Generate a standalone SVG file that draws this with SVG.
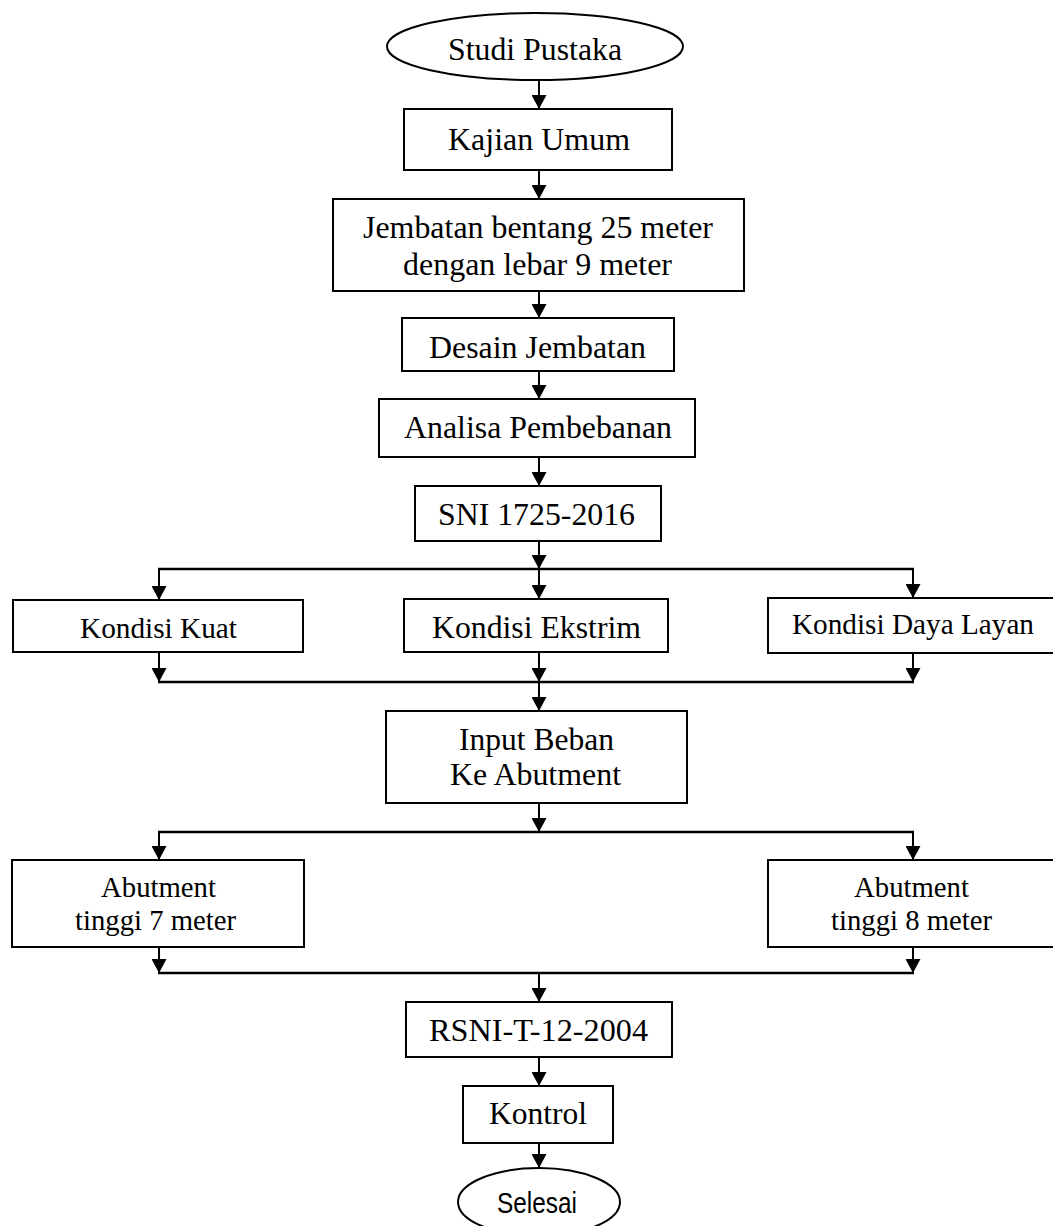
<svg xmlns="http://www.w3.org/2000/svg" width="1053" height="1226" viewBox="0 0 1053 1226">
<defs>
<marker id="ah" markerUnits="userSpaceOnUse" markerWidth="14" markerHeight="15" viewBox="0 0 14 15" refX="14" refY="7.5" orient="auto">
<path d="M0,0 L14,7.5 L0,15 Z" fill="#000"/>
</marker>
<style>
.box{fill:#fff;stroke:#000;stroke-width:2}
.t{font-family:"Liberation Serif","Times New Roman",serif;font-size:32px;fill:#000}
.s{font-size:29px}
.sans{font-family:"Liberation Sans",Arial,sans-serif;font-size:30px;fill:#000}
.c{stroke:#000;stroke-width:2;fill:none}
.a{marker-end:url(#ah)}
.h{stroke-width:2.5}
</style>
</defs>
<rect width="1053" height="1226" fill="#fff"/>
<g id="connectors">
<line class="c a" x1="539" y1="80" x2="539" y2="109"/>
<line class="c a" x1="539" y1="170" x2="539" y2="199"/>
<line class="c a" x1="539" y1="291" x2="539" y2="318"/>
<line class="c a" x1="539" y1="371" x2="539" y2="399"/>
<line class="c a" x1="539" y1="457" x2="539" y2="486"/>
<line class="c a" x1="539" y1="541" x2="539" y2="569"/>
<line class="c h" x1="158" y1="569" x2="914" y2="569"/>
<line class="c a" x1="159" y1="569" x2="159" y2="600"/>
<line class="c a" x1="539" y1="569" x2="539" y2="599"/>
<line class="c a" x1="913" y1="569" x2="913" y2="598"/>
<line class="c a" x1="159" y1="652" x2="159" y2="682"/>
<line class="c a" x1="539" y1="652" x2="539" y2="682"/>
<line class="c a" x1="913" y1="653" x2="913" y2="682"/>
<line class="c h" x1="158" y1="682" x2="914" y2="682"/>
<line class="c a" x1="539" y1="682" x2="539" y2="711"/>
<line class="c a" x1="539" y1="803" x2="539" y2="832"/>
<line class="c h" x1="158" y1="832" x2="914" y2="832"/>
<line class="c a" x1="159" y1="832" x2="159" y2="860"/>
<line class="c a" x1="913" y1="832" x2="913" y2="860"/>
<line class="c a" x1="159" y1="947" x2="159" y2="973"/>
<line class="c a" x1="913" y1="947" x2="913" y2="973"/>
<line class="c h" x1="158" y1="973" x2="914" y2="973"/>
<line class="c a" x1="539" y1="973" x2="539" y2="1002"/>
<line class="c a" x1="539" y1="1057" x2="539" y2="1086"/>
<line class="c a" x1="539" y1="1143" x2="539" y2="1168"/>
</g>
<g id="studi-pustaka">
<ellipse class="box" cx="535" cy="46.5" rx="148" ry="33.5"/>
<text class="t" x="448" y="60" textLength="174" lengthAdjust="spacingAndGlyphs">Studi Pustaka</text>
</g>
<g id="kajian-umum">
<rect class="box" x="404" y="109" width="268" height="61"/>
<text class="t" x="448" y="150" textLength="182" lengthAdjust="spacingAndGlyphs">Kajian Umum</text>
</g>
<g id="jembatan">
<rect class="box" x="333" y="199" width="411" height="92"/>
<text class="t" x="363" y="238" textLength="350" lengthAdjust="spacingAndGlyphs">Jembatan bentang 25 meter</text>
<text class="t" x="403" y="275" textLength="269" lengthAdjust="spacingAndGlyphs">dengan lebar 9 meter</text>
</g>
<g id="desain-jembatan">
<rect class="box" x="402" y="318" width="272" height="53"/>
<text class="t" x="429" y="358" textLength="217" lengthAdjust="spacingAndGlyphs">Desain Jembatan</text>
</g>
<g id="analisa-pembebanan">
<rect class="box" x="379" y="399" width="316" height="58"/>
<text class="t" x="404" y="438" textLength="268" lengthAdjust="spacingAndGlyphs">Analisa Pembebanan</text>
</g>
<g id="sni">
<rect class="box" x="415" y="486" width="246" height="55"/>
<text class="t" x="438" y="525" textLength="197" lengthAdjust="spacingAndGlyphs">SNI 1725-2016</text>
</g>
<g id="kondisi-kuat">
<rect class="box" x="13" y="600" width="290" height="52"/>
<text class="t s" x="80" y="638" textLength="157" lengthAdjust="spacingAndGlyphs">Kondisi Kuat</text>
</g>
<g id="kondisi-ekstrim">
<rect class="box" x="404" y="599" width="264" height="53"/>
<text class="t" x="432" y="638" textLength="209" lengthAdjust="spacingAndGlyphs">Kondisi Ekstrim</text>
</g>
<g id="kondisi-daya-layan">
<rect class="box" x="768" y="598" width="295" height="55"/>
<text class="t s" x="792" y="634" textLength="242" lengthAdjust="spacingAndGlyphs">Kondisi Daya Layan</text>
</g>
<g id="input-beban">
<rect class="box" x="386" y="711" width="301" height="92"/>
<text class="t" x="459" y="750" textLength="155" lengthAdjust="spacingAndGlyphs">Input Beban</text>
<text class="t" x="450" y="785" textLength="171" lengthAdjust="spacingAndGlyphs">Ke Abutment</text>
</g>
<g id="abutment-7">
<rect class="box" x="12" y="860" width="292" height="87"/>
<text class="t s" x="101" y="897" textLength="115" lengthAdjust="spacingAndGlyphs">Abutment</text>
<text class="t s" x="75" y="930" textLength="161" lengthAdjust="spacingAndGlyphs">tinggi 7 meter</text>
</g>
<g id="abutment-8">
<rect class="box" x="768" y="860" width="295" height="87"/>
<text class="t s" x="854" y="897" textLength="115" lengthAdjust="spacingAndGlyphs">Abutment</text>
<text class="t s" x="831" y="930" textLength="161" lengthAdjust="spacingAndGlyphs">tinggi 8 meter</text>
</g>
<g id="rsni">
<rect class="box" x="406" y="1002" width="266" height="55"/>
<text class="t" x="429" y="1041" textLength="219" lengthAdjust="spacingAndGlyphs">RSNI-T-12-2004</text>
</g>
<g id="kontrol">
<rect class="box" x="463" y="1086" width="150" height="57"/>
<text class="t" x="489" y="1124" textLength="98" lengthAdjust="spacingAndGlyphs">Kontrol</text>
</g>
<g id="selesai">
<ellipse class="box" cx="539" cy="1202" rx="81" ry="34"/>
<text class="sans" x="497" y="1213" textLength="80" lengthAdjust="spacingAndGlyphs">Selesai</text>
</g>
</svg>
